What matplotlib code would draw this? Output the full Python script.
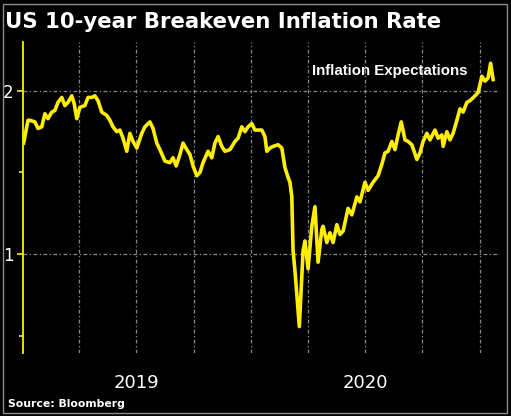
import matplotlib
matplotlib.use("Agg")
import matplotlib.pyplot as plt
import matplotlib.dates as mdates
import matplotlib.patches as patches
import numpy as np
import pandas as pd

title = "US 10-year Breakeven Inflation Rate"
source = "Source: Bloomberg"
annotation = "Inflation Expectations"

dates = [
    "2019-01-02", "2019-01-05", "2019-01-09", "2019-01-12", "2019-01-20", "2019-01-25",
    "2019-01-31", "2019-02-05", "2019-02-10", "2019-02-16", "2019-02-21", "2019-02-26",
    "2019-03-04", "2019-03-09", "2019-03-14", "2019-03-20", "2019-03-24", "2019-03-28",
    "2019-04-02", "2019-04-10", "2019-04-15", "2019-04-21", "2019-04-26", "2019-05-01",
    "2019-05-07", "2019-05-15", "2019-05-20", "2019-05-25", "2019-05-31", "2019-06-05",
    "2019-06-10", "2019-06-16", "2019-06-21", "2019-06-26", "2019-07-02", "2019-07-10",
    "2019-07-15", "2019-07-23", "2019-07-28", "2019-08-03", "2019-08-08", "2019-08-16",
    "2019-08-24", "2019-08-29", "2019-09-03", "2019-09-09", "2019-09-14", "2019-09-20",
    "2019-09-25", "2019-09-30", "2019-10-06", "2019-10-11", "2019-10-16", "2019-10-24",
    "2019-10-30", "2019-11-04", "2019-11-09", "2019-11-15", "2019-11-20", "2019-11-28",
    "2019-12-06", "2019-12-11", "2019-12-17", "2019-12-22", "2019-12-27", "2020-01-02",
    "2020-01-07", "2020-01-12", "2020-01-18", "2020-01-23", "2020-01-26", "2020-01-31",
    "2020-02-05", "2020-02-13", "2020-02-19", "2020-02-24", "2020-02-29", "2020-03-03",
    "2020-03-06", "2020-03-08", "2020-03-11", "2020-03-18", "2020-03-24", "2020-03-27",
    "2020-04-01", "2020-04-07", "2020-04-12", "2020-04-17", "2020-04-23", "2020-04-25",
    "2020-05-01", "2020-05-06", "2020-05-11", "2020-05-17", "2020-05-22", "2020-05-27",
    "2020-06-04", "2020-06-10", "2020-06-18", "2020-06-23", "2020-07-01", "2020-07-06",
    "2020-07-14", "2020-07-22", "2020-07-28", "2020-08-02", "2020-08-07", "2020-08-13",
    "2020-08-18", "2020-08-23", "2020-08-28", "2020-09-03", "2020-09-08", "2020-09-14",
    "2020-09-22", "2020-09-27", "2020-10-02", "2020-10-08", "2020-10-13", "2020-10-21",
    "2020-10-26", "2020-11-01", "2020-11-03", "2020-11-09", "2020-11-14", "2020-11-19",
    "2020-11-25", "2020-11-30", "2020-12-05", "2020-12-11", "2020-12-16", "2020-12-24",
    "2020-12-29", "2021-01-04", "2021-01-09", "2021-01-14", "2021-01-18", "2021-01-22",
]
values = [
    1.68, 1.74, 1.82, 1.82, 1.81, 1.77,
    1.78, 1.86, 1.83, 1.87, 1.88, 1.93,
    1.96, 1.91, 1.93, 1.97, 1.92, 1.83,
    1.90, 1.91, 1.96, 1.96, 1.97, 1.94,
    1.87, 1.85, 1.82, 1.78, 1.75, 1.76,
    1.71, 1.63, 1.74, 1.69, 1.65, 1.74,
    1.78, 1.81, 1.77, 1.68, 1.64, 1.57,
    1.56, 1.59, 1.54, 1.61, 1.68, 1.64,
    1.61, 1.54, 1.48, 1.50, 1.56, 1.63,
    1.59, 1.68, 1.72, 1.66, 1.63, 1.64,
    1.69, 1.71, 1.78, 1.75, 1.78, 1.80,
    1.76, 1.76, 1.76, 1.72, 1.63, 1.65,
    1.66, 1.67, 1.65, 1.53, 1.47, 1.44,
    1.35, 1.02, 0.90, 0.555, 1.02, 1.08,
    0.91, 1.17, 1.29, 0.95, 1.15, 1.17,
    1.07, 1.13, 1.07, 1.18, 1.12, 1.14,
    1.28, 1.24, 1.35, 1.32, 1.44, 1.39,
    1.44, 1.48, 1.55, 1.62, 1.63, 1.69,
    1.64, 1.73, 1.81, 1.70, 1.69, 1.67,
    1.58, 1.62, 1.69, 1.74, 1.70, 1.76,
    1.71, 1.73, 1.66, 1.75, 1.70, 1.74,
    1.82, 1.89, 1.87, 1.93, 1.94, 1.97,
    1.99, 2.09, 2.06, 2.08, 2.17, 2.07,
]
year_labels = ["2019", "2020"]
year_label_dates = ["2019-07-01", "2020-07-01"]
grid_dates = ["2019-04-01", "2019-07-01", "2019-10-01", "2020-01-01",
              "2020-04-01", "2020-07-01", "2020-10-01", "2021-01-01"]
y_major = [1, 2]
y_minor = [0.5, 1.5]

x = pd.to_datetime(dates)
W, H = 511, 416
fig = plt.figure(figsize=(W / 100, H / 100), dpi=100, facecolor="black")
ax = fig.add_axes([23 / W, 1 - 353 / H, (500 - 23) / W, (353 - 42) / H])
ax.set_facecolor("black")

yellow = "#FFEE00"
ax.plot(x, values, color=yellow, lw=2.6, solid_joinstyle="round", zorder=3)

ax.set_xlim(pd.Timestamp("2019-01-01"), pd.Timestamp("2021-02-02"))
ax.set_ylim(0.393, 2.30)

for s in ["top", "right", "bottom"]:
    ax.spines[s].set_visible(False)
ax.spines["left"].set_color(yellow)
ax.spines["left"].set_linewidth(1.3)

ax.set_yticks(y_major)
ax.set_yticklabels([str(v) for v in y_major])
ax.set_yticks(y_minor, minor=True)
ax.tick_params(axis="y", which="major", colors=yellow, length=4, width=1.2,
               labelcolor="white", labelsize=12, pad=3)
ax.tick_params(axis="y", which="minor", colors=yellow, length=3, width=1.2)

ax.xaxis.remove_overlapping_locs = False
ax.set_xticks(pd.to_datetime(grid_dates))
ax.set_xticklabels([])
ax.set_xticks(pd.to_datetime(year_label_dates), minor=True)
ax.set_xticklabels(year_labels, minor=True)
ax.tick_params(axis="x", which="both", length=0)
ax.tick_params(axis="x", which="minor", labelcolor="white", labelsize=13, pad=15)

ax.grid(True, which="major", axis="both", color="#8a8a8a", lw=0.9,
        linestyle=(0, (3, 2, 1, 2)))

ax.text(pd.Timestamp("2020-04-08"), 2.12, annotation, color="white",
        fontsize=10.8, family="Liberation Sans", fontweight="bold",
        va="center", ha="left")

fig.text(5 / W, 1 - 22 / H, title, color="white", fontsize=15.3,
         fontweight="bold", va="center", ha="left")
fig.text(8 / W, 1 - 404 / H, source, color="white", fontsize=7.8,
         fontweight="bold", va="center", ha="left")

fig.patches.append(patches.Rectangle((3 / W, 3 / H), 1 - 7 / W, 1 - 7 / H,
                                     transform=fig.transFigure, fill=False,
                                     edgecolor="#8c8c8c", lw=1))

fig.savefig("out.png", dpi=100, facecolor="black")
